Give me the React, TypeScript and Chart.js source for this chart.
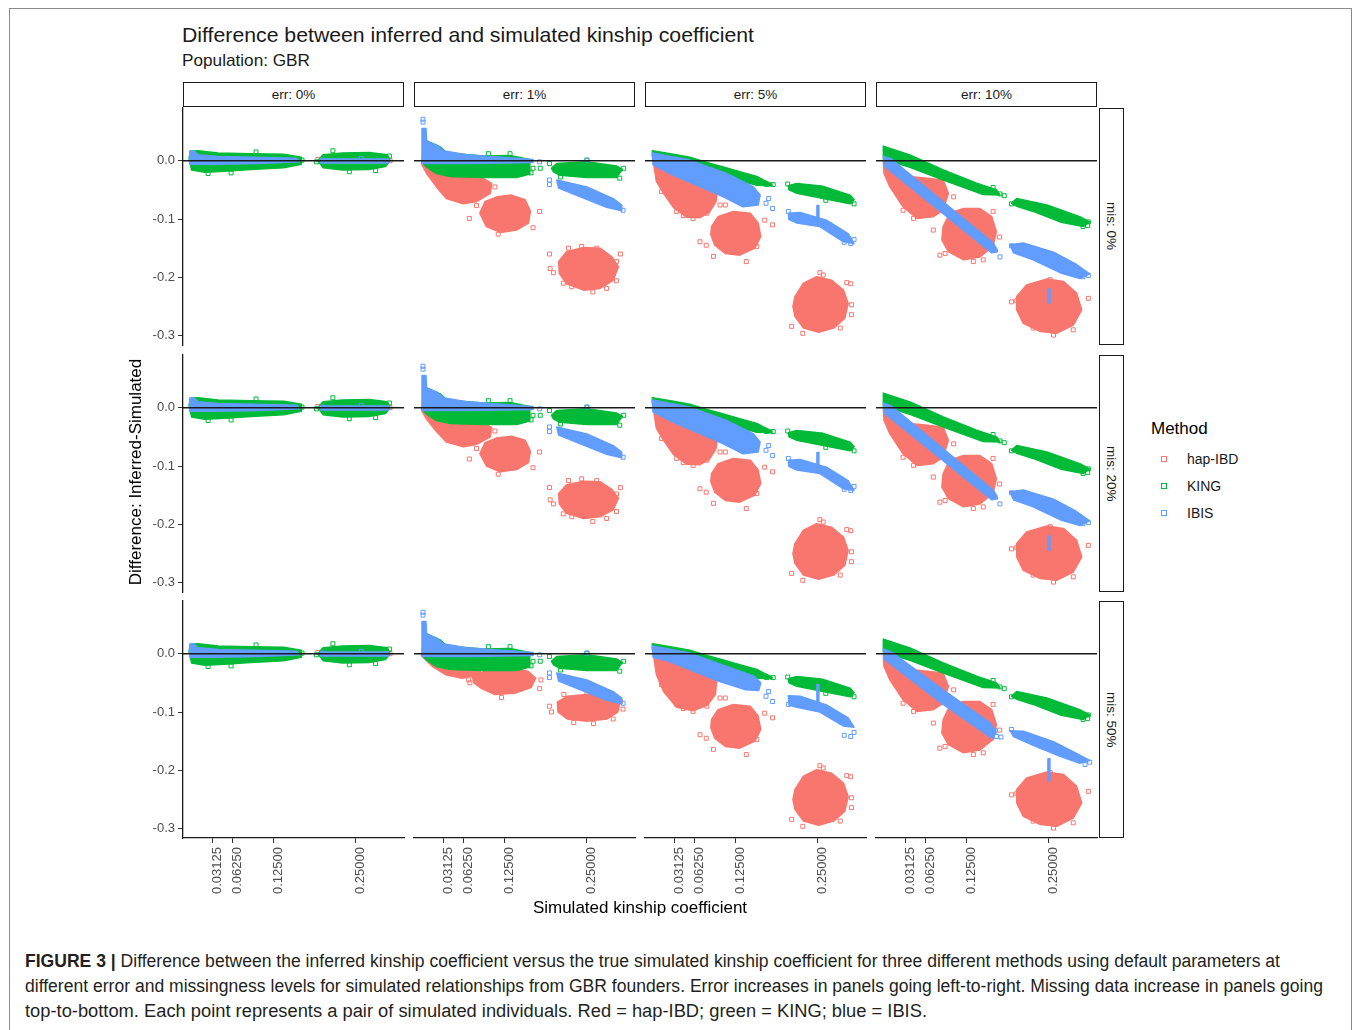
import React, { useEffect, useRef } from 'react';
import { Chart, registerables } from 'chart.js';
Chart.register(...registerables);

type Pt = [number, number];
type Poly = Pt[];

// ---------- axes / labels ----------
const X_MIN = -0.0132;
const X_MAX = 0.3232;
const Y_MIN = -0.316;
const Y_MAX = 0.0903;
const X_TICKS = [0.03125, 0.0625, 0.125, 0.25];
const Y_TICKS = [-0.3, -0.2, -0.1, 0.0];
const ERR_LABELS = ['err: 0%', 'err: 1%', 'err: 5%', 'err: 10%'];
const MIS_LABELS = ['mis: 0%', 'mis: 20%', 'mis: 50%'];
const METHODS = ['hap-IBD', 'KING', 'IBIS'];
const METHOD_COLORS = ['#F8766D', '#00BA38', '#619CFF'];

// ---------- err 0% (all missingness levels) ----------
const king_err0_band: Poly = [[-0.004, 0.004], [-0.002, 0.016], [0.01, 0.017], [0.04, 0.013], [0.09, 0.012], [0.14, 0.011], [0.167, 0.006], [0.167, -0.006], [0.14, -0.012], [0.09, -0.015], [0.05, -0.018], [0.02, -0.02], [0.0, -0.016]];
const king_err0_c25: Poly = [[0.192, 0.0], [0.2, 0.01], [0.23, 0.013], [0.27, 0.014], [0.298, 0.01], [0.302, 0.0], [0.295, -0.01], [0.27, -0.015], [0.23, -0.016], [0.2, -0.012]];
const king_err0_pts: Pt[] = [[0.025, -0.022], [0.098, 0.015], [0.19, -0.002], [0.301, 0.008], [0.24, -0.019], [0.168, 0.001], [0.06, -0.021], [0.28, -0.017], [0.215, 0.017]];
const ibis_err0_band: Poly = [[-0.003, 0.016], [0.003, 0.017], [0.01, 0.01], [0.04, 0.007], [0.16, 0.004], [0.164, -0.002], [0.1, -0.005], [0.03, -0.006], [-0.003, -0.006]];
const ibis_err0_c25: Poly = [[0.196, 0.003], [0.3, 0.003], [0.3, -0.004], [0.196, -0.004]];
const ibis_err0_pts: Pt[] = [[0.258, 0.004], [0.2, 0.001]];
const hap_err0_pts: Pt[] = [[0.192, 0.002], [0.302, 0.0]];

// ---------- err 1% ----------
const king_err1_band: Poly = [[0.001, 0.03], [0.008, 0.033], [0.026, 0.024], [0.037, 0.013], [0.092, 0.008], [0.133, 0.009], [0.163, 0.002], [0.163, -0.023], [0.143, -0.029], [0.092, -0.029], [0.042, -0.027], [0.021, -0.022], [0.006, -0.011], [-0.001, -0.003]];
const king_err1_c25: Poly = [[0.196, -0.013], [0.204, -0.005], [0.25, -0.002], [0.295, -0.009], [0.304, -0.015], [0.295, -0.029], [0.25, -0.029], [0.209, -0.025], [0.199, -0.019]];
const king_err1_pts: Pt[] = [[0.168, -0.013], [0.179, -0.013], [0.193, -0.005], [0.3, -0.03], [0.306, -0.013], [0.1, 0.012], [0.133, 0.012], [0.25, 0.001], [0.21, -0.028], [0.165, -0.021]];
const ibis_err1_band: Poly = [[-0.001, 0.055], [0.005, 0.055], [0.006, 0.035], [0.011, 0.031], [0.021, 0.027], [0.031, 0.017], [0.067, 0.01], [0.118, 0.006], [0.168, 0.002], [0.168, -0.003], [0.067, -0.005], [-0.001, -0.005]];
const ibis_err1_c25: Poly = [[0.204, -0.033], [0.25, -0.045], [0.29, -0.065], [0.303, -0.076], [0.303, -0.086], [0.28, -0.08], [0.24, -0.062], [0.207, -0.047]];
const ibis_err1_pts: Pt[] = [[0.0005, 0.071], [0.0005, 0.066], [0.178, -0.002], [0.193, -0.033], [0.193, -0.041], [0.25, 0.001], [0.305, -0.085]];

const hap_err1_mis0_fan: Poly = [[-0.002, -0.005], [0.031, -0.025], [0.087, -0.027], [0.105, -0.039], [0.103, -0.056], [0.082, -0.07], [0.062, -0.074], [0.036, -0.065], [0.021, -0.045], [0.006, -0.022]];
const hap_err1_mis0_c125: Poly = [[0.087, -0.09], [0.095, -0.07], [0.113, -0.062], [0.135, -0.059], [0.156, -0.067], [0.164, -0.087], [0.161, -0.107], [0.143, -0.119], [0.118, -0.123], [0.097, -0.113]];
const hap_err1_mis0_c25: Poly = [[0.207, -0.173], [0.219, -0.156], [0.245, -0.149], [0.27, -0.15], [0.288, -0.165], [0.298, -0.182], [0.29, -0.205], [0.27, -0.219], [0.245, -0.222], [0.219, -0.211], [0.208, -0.193]];
const hap_err1_mis0_pts: Pt[] = [[0.11, -0.045], [0.098, -0.025], [0.082, -0.077], [0.071, -0.099], [0.178, -0.087], [0.168, -0.115], [0.115, -0.126], [0.193, -0.16], [0.194, -0.185], [0.199, -0.192], [0.301, -0.16], [0.295, -0.173], [0.295, -0.206], [0.28, -0.219], [0.259, -0.225], [0.227, -0.216], [0.214, -0.21], [0.222, -0.15], [0.242, -0.147], [0.265, -0.15]];

const hap_err1_mis20_fan: Poly = [[-0.002, -0.004], [0.031, -0.022], [0.087, -0.024], [0.105, -0.034], [0.103, -0.05], [0.082, -0.063], [0.062, -0.067], [0.036, -0.059], [0.021, -0.041], [0.006, -0.02]];
const hap_err1_mis20_c125: Poly = [[0.087, -0.079], [0.095, -0.06], [0.113, -0.052], [0.135, -0.049], [0.156, -0.056], [0.164, -0.075], [0.161, -0.094], [0.143, -0.106], [0.118, -0.11], [0.097, -0.1]];
const hap_err1_mis20_c25: Poly = [[0.207, -0.147], [0.219, -0.132], [0.245, -0.126], [0.27, -0.127], [0.288, -0.14], [0.298, -0.155], [0.29, -0.175], [0.27, -0.187], [0.245, -0.19], [0.219, -0.181], [0.208, -0.165]];
const hap_err1_mis20_pts: Pt[] = [[0.11, -0.04], [0.098, -0.022], [0.082, -0.07], [0.071, -0.088], [0.178, -0.076], [0.168, -0.103], [0.115, -0.114], [0.193, -0.137], [0.194, -0.158], [0.199, -0.165], [0.301, -0.137], [0.295, -0.148], [0.295, -0.178], [0.28, -0.19], [0.259, -0.195], [0.227, -0.187], [0.214, -0.182], [0.222, -0.125], [0.242, -0.122], [0.265, -0.125]];

const hap_err1_mis50_fan: Poly = [[-0.002, -0.003], [0.03, -0.015], [0.07, -0.022], [0.09, -0.026], [0.085, -0.036], [0.06, -0.042], [0.035, -0.036], [0.015, -0.022], [0.004, -0.01]];
const hap_err1_mis50_c125: Poly = [[0.075, -0.038], [0.1, -0.028], [0.13, -0.025], [0.16, -0.03], [0.172, -0.042], [0.165, -0.058], [0.14, -0.068], [0.11, -0.07], [0.09, -0.06], [0.078, -0.05]];
const hap_err1_mis50_c25: Poly = [[0.205, -0.083], [0.22, -0.073], [0.25, -0.07], [0.28, -0.073], [0.3, -0.085], [0.297, -0.1], [0.28, -0.112], [0.25, -0.116], [0.22, -0.112], [0.206, -0.1]];
const hap_err1_mis50_pts: Pt[] = [[0.095, -0.03], [0.07, -0.045], [0.18, -0.045], [0.178, -0.06], [0.072, -0.05], [0.12, -0.075], [0.193, -0.09], [0.196, -0.1], [0.301, -0.082], [0.305, -0.095], [0.29, -0.112], [0.26, -0.12], [0.23, -0.118], [0.215, -0.07], [0.25, -0.066], [0.28, -0.068]];

// ---------- err 5% ----------
const king_err5_band: Poly = [[-0.002, 0.017], [0.03, 0.011], [0.055, 0.006], [0.081, -0.003], [0.106, -0.011], [0.131, -0.019], [0.157, -0.027], [0.167, -0.033], [0.18, -0.04], [0.18, -0.043], [0.157, -0.042], [0.106, -0.027], [0.055, -0.007], [-0.002, 0.007]];
const king_err5_c25: Poly = [[0.205, -0.043], [0.218, -0.039], [0.258, -0.044], [0.299, -0.059], [0.305, -0.067], [0.299, -0.074], [0.258, -0.065], [0.218, -0.056], [0.206, -0.05]];
const king_err5_pts: Pt[] = [[0.172, -0.041], [0.182, -0.041], [0.204, -0.04], [0.305, -0.074], [0.3, -0.07], [0.262, -0.068]];
const ibis_err5_mis0_wedge: Poly = [[-0.002, 0.013], [0.055, 0.001], [0.111, -0.022], [0.152, -0.045], [0.162, -0.059], [0.159, -0.076], [0.136, -0.079], [0.106, -0.062], [0.065, -0.042], [0.03, -0.025], [-0.001, -0.007]];
const ibis_err5_mis0_c25: Poly = [[0.205, -0.09], [0.223, -0.089], [0.263, -0.102], [0.296, -0.125], [0.305, -0.142], [0.289, -0.139], [0.253, -0.113], [0.218, -0.107], [0.206, -0.101]];
const ibis_err5_mis0_spike: Poly = [[0.2485, -0.077], [0.2515, -0.077], [0.2515, -0.1], [0.2485, -0.1]];
const ibis_err5_mis50_wedge: Poly = [[-0.002, 0.013], [0.055, 0.001], [0.111, -0.022], [0.152, -0.038], [0.163, -0.05], [0.16, -0.063], [0.14, -0.062], [0.096, -0.046], [0.05, -0.025], [0.02, -0.012], [-0.001, -0.006]];
const ibis_err5_mis50_c25: Poly = [[0.205, -0.072], [0.223, -0.073], [0.263, -0.088], [0.296, -0.11], [0.305, -0.126], [0.289, -0.124], [0.253, -0.1], [0.218, -0.092], [0.206, -0.088]];
const ibis_err5_mis50_spike: Poly = [[0.2485, -0.053], [0.2515, -0.053], [0.2515, -0.085], [0.2485, -0.085]];
const ibis_err5_pts: Pt[] = [[0.171, -0.073], [0.181, -0.082], [0.175, -0.065], [0.305, -0.135], [0.3, -0.142], [0.29, -0.14], [0.205, -0.087]];
const hap_err5_mis0_fan: Poly = [[0.0, -0.005], [0.04, -0.027], [0.097, -0.05], [0.095, -0.07], [0.085, -0.088], [0.07, -0.098], [0.05, -0.097], [0.03, -0.08], [0.015, -0.056], [0.004, -0.035]];
const hap_err5_mis50_fan: Poly = [[0.0, -0.004], [0.096, -0.045], [0.094, -0.07], [0.082, -0.088], [0.06, -0.098], [0.035, -0.092], [0.015, -0.065], [0.004, -0.035]];
const hap_err5_c125: Poly = [[0.088, -0.113], [0.098, -0.096], [0.121, -0.087], [0.147, -0.09], [0.159, -0.107], [0.163, -0.13], [0.154, -0.15], [0.131, -0.162], [0.109, -0.159], [0.093, -0.145], [0.087, -0.127]];
const hap_err5_c25: Poly = [[0.215, -0.233], [0.228, -0.21], [0.248, -0.199], [0.271, -0.205], [0.289, -0.222], [0.296, -0.245], [0.291, -0.27], [0.274, -0.287], [0.251, -0.294], [0.228, -0.287], [0.215, -0.267], [0.212, -0.25]];
const hap_err5_pts: Pt[] = [[0.012, -0.053], [0.035, -0.087], [0.045, -0.094], [0.06, -0.099], [0.081, -0.09], [0.101, -0.076], [0.109, -0.076], [0.0705, -0.139], [0.08, -0.145], [0.091, -0.164], [0.141, -0.173], [0.169, -0.102], [0.181, -0.11], [0.157, -0.147], [0.294, -0.209], [0.3, -0.211], [0.301, -0.247], [0.301, -0.264], [0.21, -0.284], [0.227, -0.296], [0.253, -0.192], [0.258, -0.196], [0.284, -0.287]];

// ---------- err 10% ----------
const king_err10_band: Poly = [[-0.002, 0.025], [0.0385, 0.0097], [0.0893, -0.016], [0.14, -0.0388], [0.1704, -0.0503], [0.1755, -0.0588], [0.15, -0.058], [0.0893, -0.0331], [0.0385, -0.0114], [-0.002, 0.0023]];
const king_err10_c25: Poly = [[0.193, -0.073], [0.201, -0.065], [0.247, -0.076], [0.297, -0.096], [0.312, -0.105], [0.302, -0.113], [0.267, -0.105], [0.226, -0.087], [0.201, -0.078]];
const king_err10_pts: Pt[] = [[0.165, -0.046], [0.1755, -0.057], [0.182, -0.06], [0.193, -0.074], [0.31, -0.105], [0.309, -0.111], [0.302, -0.113]];
const ibis_err10_mis0_diag: Poly = [[-0.002, 0.008], [0.01, 0.003], [0.166, -0.142], [0.172, -0.156], [0.163, -0.158], [0.0, -0.01]];
const ibis_err10_mis0_c25: Poly = [[0.191, -0.144], [0.211, -0.141], [0.257, -0.157], [0.292, -0.178], [0.312, -0.194], [0.297, -0.202], [0.267, -0.192], [0.226, -0.17], [0.196, -0.158]];
const ibis_err10_mis0_spike: Poly = [[0.2485, -0.22], [0.2515, -0.22], [0.2515, -0.244], [0.2485, -0.244]];
const ibis_err10_mis0_pts: Pt[] = [[0.168, -0.153], [0.1755, -0.165], [0.193, -0.146], [0.302, -0.199], [0.31, -0.197]];
const ibis_err10_mis50_diag: Poly = [[-0.002, 0.008], [0.01, 0.003], [0.089, -0.062], [0.16, -0.118], [0.17, -0.135], [0.163, -0.145], [0.089, -0.087], [0.0, -0.01]];
const ibis_err10_mis50_c25: Poly = [[0.191, -0.132], [0.211, -0.133], [0.257, -0.151], [0.292, -0.171], [0.312, -0.183], [0.297, -0.188], [0.267, -0.176], [0.226, -0.157], [0.196, -0.142]];
const ibis_err10_mis50_spike: Poly = [[0.2485, -0.18], [0.2515, -0.18], [0.2515, -0.218], [0.2485, -0.218]];
const ibis_err10_mis50_pts: Pt[] = [[0.168, -0.132], [0.17, -0.142], [0.177, -0.143], [0.193, -0.13], [0.305, -0.19], [0.312, -0.186]];
const hap_err10_fan: Poly = [[-0.002, -0.002], [0.039, -0.027], [0.089, -0.033], [0.097, -0.056], [0.089, -0.085], [0.074, -0.096], [0.049, -0.099], [0.028, -0.079], [0.008, -0.045], [-0.001, -0.022]];
const hap_err10_c125: Poly = [[0.089, -0.113], [0.099, -0.09], [0.12, -0.082], [0.145, -0.082], [0.163, -0.096], [0.17, -0.122], [0.165, -0.147], [0.145, -0.165], [0.12, -0.17], [0.097, -0.156], [0.087, -0.136]];
const hap_err10_c25: Poly = [[0.201, -0.233], [0.216, -0.213], [0.247, -0.203], [0.272, -0.207], [0.292, -0.227], [0.3, -0.256], [0.287, -0.282], [0.262, -0.296], [0.237, -0.293], [0.211, -0.279], [0.201, -0.256]];
const hap_err10_pts: Pt[] = [[0.028, -0.085], [0.044, -0.099], [0.079, -0.087], [0.105, -0.062], [0.074, -0.119], [0.084, -0.162], [0.092, -0.159], [0.135, -0.173], [0.15, -0.17], [0.165, -0.087], [0.175, -0.131], [0.193, -0.242], [0.201, -0.24], [0.31, -0.236], [0.287, -0.273], [0.287, -0.29], [0.257, -0.299], [0.226, -0.287], [0.252, -0.204]];

// ---------- panel table built from the arrays ----------
type Layer = { polys: Poly[]; pts: Pt[] };
type PanelData = [Layer, Layer, Layer]; // hap-IBD, KING, IBIS
const L = (polys: Poly[], pts: Pt[]): Layer => ({ polys, pts });

const err0Panel: PanelData = [L([], hap_err0_pts), L([king_err0_band, king_err0_c25], king_err0_pts), L([ibis_err0_band, ibis_err0_c25], ibis_err0_pts)];
const err1King = L([king_err1_band, king_err1_c25], king_err1_pts);
const err1Ibis = L([ibis_err1_band, ibis_err1_c25], ibis_err1_pts);
const err5King = L([king_err5_band, king_err5_c25], king_err5_pts);
const err10King = L([king_err10_band, king_err10_c25], king_err10_pts);

const PANELS: PanelData[][] = [
  [
    err0Panel,
    [L([hap_err1_mis0_fan, hap_err1_mis0_c125, hap_err1_mis0_c25], hap_err1_mis0_pts), err1King, err1Ibis],
    [L([hap_err5_mis0_fan, hap_err5_c125, hap_err5_c25], hap_err5_pts), err5King, L([ibis_err5_mis0_wedge, ibis_err5_mis0_c25, ibis_err5_mis0_spike], ibis_err5_pts)],
    [L([hap_err10_fan, hap_err10_c125, hap_err10_c25], hap_err10_pts), err10King, L([ibis_err10_mis0_diag, ibis_err10_mis0_c25, ibis_err10_mis0_spike], ibis_err10_mis0_pts)],
  ],
  [
    err0Panel,
    [L([hap_err1_mis20_fan, hap_err1_mis20_c125, hap_err1_mis20_c25], hap_err1_mis20_pts), err1King, err1Ibis],
    [L([hap_err5_mis0_fan, hap_err5_c125, hap_err5_c25], hap_err5_pts), err5King, L([ibis_err5_mis0_wedge, ibis_err5_mis0_c25, ibis_err5_mis0_spike], ibis_err5_pts)],
    [L([hap_err10_fan, hap_err10_c125, hap_err10_c25], hap_err10_pts), err10King, L([ibis_err10_mis0_diag, ibis_err10_mis0_c25, ibis_err10_mis0_spike], ibis_err10_mis0_pts)],
  ],
  [
    err0Panel,
    [L([hap_err1_mis50_fan, hap_err1_mis50_c125, hap_err1_mis50_c25], hap_err1_mis50_pts), err1King, err1Ibis],
    [L([hap_err5_mis50_fan, hap_err5_c125, hap_err5_c25], hap_err5_pts), err5King, L([ibis_err5_mis50_wedge, ibis_err5_mis50_c25, ibis_err5_mis50_spike], ibis_err5_pts)],
    [L([hap_err10_fan, hap_err10_c125, hap_err10_c25], hap_err10_pts), err10King, L([ibis_err10_mis50_diag, ibis_err10_mis50_c25, ibis_err10_mis50_spike], ibis_err10_mis50_pts)],
  ],
];

// ---------- layout ----------
const FONT = '"Liberation Sans", Arial, Helvetica, sans-serif';
const PANEL_W = 221;
const PANEL_H = 237;
const COL_LEFT = [183, 414, 645, 876];
const ROW_TOP = [108, 355, 601];
const M = 12;
const YAXIS_W = 40;
const XAXIS_H = 62;

function makePolyPlugin(polysByDataset: Record<number, Poly[]>) {
  return {
    id: 'polyLayers',
    beforeDatasetDraw(chart: any, args: any) {
      const polys = polysByDataset[args.index];
      if (!polys || !polys.length) return;
      const ds = chart.data.datasets[args.index];
      const { ctx, chartArea: a, scales } = chart;
      const xs = scales.x, ys = scales.y;
      ctx.save();
      ctx.beginPath();
      ctx.rect(a.left, a.top, a.right - a.left, a.bottom - a.top);
      ctx.clip();
      ctx.fillStyle = ds.borderColor;
      ctx.strokeStyle = ds.borderColor;
      ctx.lineWidth = 1.5;
      ctx.lineJoin = 'round';
      for (const poly of polys) {
        ctx.beginPath();
        poly.forEach(([px, py], i) => {
          const X = xs.getPixelForValue(px);
          const Y = ys.getPixelForValue(py);
          if (i === 0) ctx.moveTo(X, Y); else ctx.lineTo(X, Y);
        });
        ctx.closePath();
        ctx.fill();
        ctx.stroke();
      }
      ctx.restore();
    },
  };
}

function Panel({ r, c }: { r: number; c: number }) {
  const ref = useRef<HTMLCanvasElement>(null);
  const showY = c === 0;
  const showX = r === 2;
  const w = PANEL_W + 2 * M + (showY ? YAXIS_W : 0);
  const h = PANEL_H + 2 * M + (showX ? XAXIS_H : 0);
  const left = COL_LEFT[c] - M - (showY ? YAXIS_W : 0);
  const top = ROW_TOP[r] - M;

  useEffect(() => {
    const p = PANELS[r][c];
    const datasets: any[] = [
      {
        label: 'zero',
        data: [{ x: X_MIN, y: 0 }, { x: X_MAX, y: 0 }],
        showLine: true,
        borderColor: '#1a1a1a',
        borderWidth: 1.5,
        pointRadius: 0,
        order: 0,
      },
    ];
    const polysByDataset: Record<number, Poly[]> = {};
    p.forEach((layer, i) => {
      polysByDataset[datasets.length] = layer.polys;
      datasets.push({
        label: METHODS[i],
        data: layer.pts.map(([x, y]) => ({ x, y })),
        pointStyle: 'rect',
        pointRadius: 2.8,
        borderWidth: 1,
        pointBorderWidth: 1,
        borderColor: METHOD_COLORS[i],
        pointBorderColor: METHOD_COLORS[i],
        backgroundColor: 'rgba(255,255,255,0)',
        pointBackgroundColor: 'rgba(255,255,255,0)',
        order: 3 - i,
      });
    });
    const tickFont = { family: FONT, size: 13 };
    const chart = new Chart(ref.current as HTMLCanvasElement, {
      type: 'scatter',
      data: { datasets },
      options: {
        responsive: false,
        maintainAspectRatio: false,
        animation: false,
        events: [],
        layout: { padding: { left: M, right: M, top: M, bottom: M } },
        plugins: { legend: { display: false }, tooltip: { enabled: false } },
        scales: {
          x: {
            type: 'linear',
            min: X_MIN,
            max: X_MAX,
            display: showX,
            afterBuildTicks: (s: any) => { s.ticks = X_TICKS.map((v) => ({ value: v })); },
            afterFit: (s: any) => { s.height = showX ? XAXIS_H : 0; },
            ticks: {
              autoSkip: false,
              maxRotation: 90,
              minRotation: 90,
              padding: 4,
              labelOffset: 5,
              color: '#4d4d4d',
              font: tickFont,
              callback: (v: any) => Number(v).toFixed(5),
            },
            grid: { display: true, drawOnChartArea: false, drawTicks: true, tickLength: 5, color: '#333333', lineWidth: 1 },
            border: { display: true, color: '#1a1a1a', width: 1.3 },
          },
          y: {
            type: 'linear',
            min: Y_MIN,
            max: Y_MAX,
            display: showY,
            afterBuildTicks: (s: any) => { s.ticks = Y_TICKS.map((v) => ({ value: v })); },
            afterFit: (s: any) => { s.width = showY ? YAXIS_W : 0; },
            ticks: {
              padding: 3,
              color: '#4d4d4d',
              font: tickFont,
              callback: (v: any) => Number(v).toFixed(1),
            },
            grid: { display: true, drawOnChartArea: false, drawTicks: true, tickLength: 5, color: '#333333', lineWidth: 1 },
            border: { display: true, color: '#1a1a1a', width: 1.3 },
          },
        },
      } as any,
      plugins: [makePolyPlugin(polysByDataset)],
    });
    return () => chart.destroy();
  }, [r, c]);

  return (
    <canvas
      ref={ref}
      width={w}
      height={h}
      style={{ position: 'absolute', left, top, width: w, height: h }}
    />
  );
}

function FitText({ width, children, style }: { width: number; children: any; style?: any }) {
  const ref = useRef<HTMLSpanElement>(null);
  useEffect(() => {
    const el = ref.current;
    if (!el) return;
    el.style.transform = 'none';
    const cw = el.getBoundingClientRect().width;
    if (cw > 0) el.style.transform = `scaleX(${width / cw})`;
  }, [width]);
  return (
    <span ref={ref} style={{ display: 'inline-block', whiteSpace: 'nowrap', transformOrigin: '0 0', ...style }}>
      {children}
    </span>
  );
}

const CAPTION_LINES = [
  'Difference between the inferred kinship coefficient versus the true simulated kinship coefficient for three different methods using default parameters at',
  'different error and missingness levels for simulated relationships from GBR founders. Error increases in panels going left-to-right. Missing data increase in panels going',
  'top-to-bottom. Each point represents a pair of simulated individuals. Red = hap-IBD; green = KING; blue = IBIS.',
];
const CAPTION_WIDTHS = [1255, 1298, 902];

export default function App() {
  const cells: any[] = [];
  for (let r = 0; r < 3; r++) for (let c = 0; c < 4; c++) cells.push(<Panel key={`${r}-${c}`} r={r} c={c} />);

  return (
    <div style={{ position: 'absolute', left: 0, top: 0, width: 1355, height: 1030, overflow: 'hidden', background: '#fff', fontFamily: FONT }}>
      {/* frame */}
      <div style={{ position: 'absolute', left: 9, top: 8, width: 1343, height: 1040, border: '1px solid #8a8a8a', boxSizing: 'border-box' }} />

      {/* titles */}
      <div style={{ position: 'absolute', left: 182, top: 24, fontSize: 21, lineHeight: '21px', color: '#1a1a1a' }}>
        <FitText width={572}>Difference between inferred and simulated kinship coefficient</FitText>
      </div>
      <div style={{ position: 'absolute', left: 182, top: 52, fontSize: 17, lineHeight: '17px', color: '#1a1a1a' }}>
        <FitText width={128}>Population: GBR</FitText>
      </div>

      {/* column strips */}
      {ERR_LABELS.map((t, c) => (
        <div key={t} style={{ position: 'absolute', left: COL_LEFT[c], top: 82, width: PANEL_W, height: 25, border: '1.5px solid #1a1a1a', boxSizing: 'border-box', background: '#fff', display: 'flex', alignItems: 'center', justifyContent: 'center', fontSize: 13.5, color: '#1a1a1a' }}>
          {t}
        </div>
      ))}
      {/* row strips */}
      {MIS_LABELS.map((t, r) => (
        <div key={t} style={{ position: 'absolute', left: 1099, top: ROW_TOP[r], width: 25, height: PANEL_H, border: '1.5px solid #1a1a1a', boxSizing: 'border-box', background: '#fff', display: 'flex', alignItems: 'center', justifyContent: 'center', fontSize: 13.5, color: '#1a1a1a' }}>
          <span style={{ writingMode: 'vertical-rl' }}>{t}</span>
        </div>
      ))}

      {cells}

      {/* axis titles */}
      <div style={{ position: 'absolute', left: 136 - 150, top: 472 - 9, width: 300, height: 18, lineHeight: '18px', textAlign: 'center', fontSize: 17, color: '#000', transform: 'rotate(-90deg)', transformOrigin: '50% 50%' }}>
        Difference: Inferred-Simulated
      </div>
      <div style={{ position: 'absolute', left: 640 - 200, top: 899, width: 400, textAlign: 'center', fontSize: 17, lineHeight: '17px', color: '#000' }}>
        Simulated kinship coefficient
      </div>

      {/* legend */}
      <div style={{ position: 'absolute', left: 1151, top: 420, fontSize: 17, lineHeight: '17px', color: '#000' }}>Method</div>
      {METHODS.map((m, i) => (
        <div key={m} style={{ position: 'absolute', left: 1155, top: 459 + i * 27 - 9, height: 18, display: 'flex', alignItems: 'center' }}>
          <div style={{ width: 18, display: 'flex', justifyContent: 'center' }}>
            <div style={{ width: 4, height: 4, border: `1px solid ${METHOD_COLORS[i]}` }} />
          </div>
          <div style={{ marginLeft: 14, fontSize: 14, color: '#1a1a1a', lineHeight: '18px' }}>{m}</div>
        </div>
      ))}

      {/* caption */}
      <div style={{ position: 'absolute', left: 25, top: 949, fontSize: 18, lineHeight: '25px', color: '#231f20' }}>
        {CAPTION_LINES.map((line, i) => (
          <div key={i} style={{ height: 25, whiteSpace: 'nowrap' }}>
            <FitText width={CAPTION_WIDTHS[i]}>
              {i === 0 ? <b>FIGURE 3 | </b> : null}
              {line}
            </FitText>
          </div>
        ))}
      </div>
    </div>
  );
}
